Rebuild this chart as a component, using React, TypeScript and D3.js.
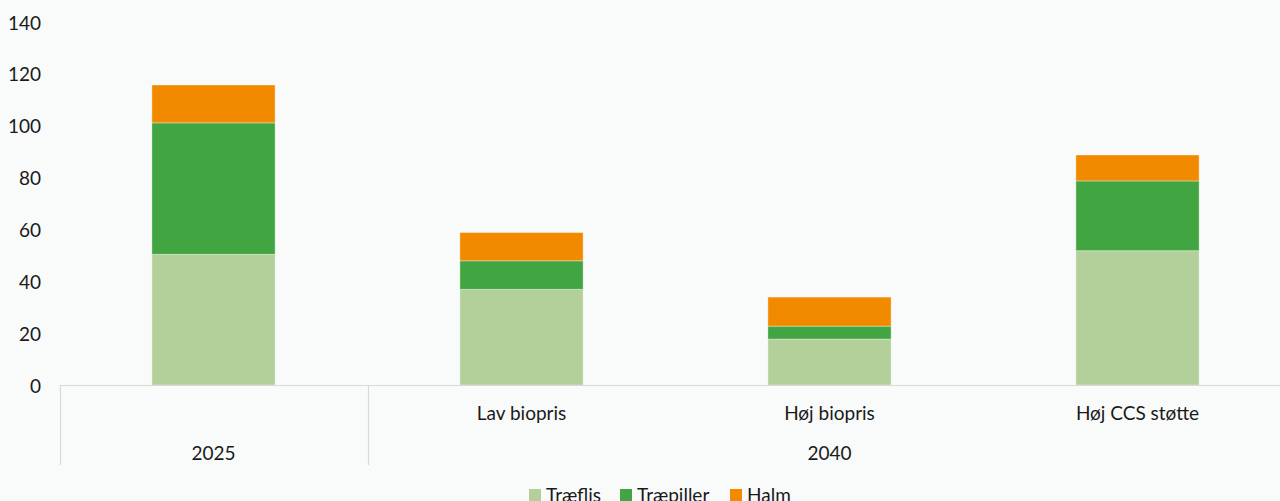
import React from "react";
import * as d3 from "d3";

const categories = ["", "Lav biopris", "Høj biopris", "Høj CCS støtte"];
const groups = ["2025", "2040", "2040", "2040"];
const traeflis = [50.4, 36.9, 17.7, 51.8];
const traepiller = [50.7, 11.0, 5.0, 26.9];
const halm = [14.6, 10.9, 11.2, 10.0];
const seriesNames = ["Træflis", "Træpiller", "Halm"];
const seriesColors = ["#b3d09b", "#41a541", "#f28a00"];
const yTicks = [0, 20, 40, 60, 80, 100, 120, 140];

const W = 1280;
const H = 501;
const FONT = "Lato, 'Open Sans', sans-serif";

export default function App() {
  const x = d3
    .scaleBand<number>()
    .domain(d3.range(categories.length))
    .range([59.5, 1291.5])
    .paddingInner(0.6)
    .paddingOuter(0.3);
  const step = x.step();
  const x0 = 59.5;
  const y = d3.scaleLinear().domain([0, 140]).range([385, 22]);

  const rows = categories.map((c, i) => ({
    idx: i,
    Træflis: traeflis[i],
    Træpiller: traepiller[i],
    Halm: halm[i],
  }));
  const stack = d3.stack<any>().keys(seriesNames);
  const stacked = stack(rows);

  // group spans
  const groupSpans: { name: string; start: number; end: number }[] = [];
  groups.forEach((g, i) => {
    const last = groupSpans[groupSpans.length - 1];
    if (last && last.name === g) last.end = i;
    else groupSpans.push({ name: g, start: i, end: i });
  });

  const legendX = [529, 620, 730];

  return (
    <svg
      width={W}
      height={H}
      style={{ position: "absolute", left: 0, top: 0, background: "#f9fafa" }}
      fontFamily={FONT}
    >
      <rect x={0} y={0} width={W} height={H} fill="#f9fafa" />
      {/* y tick labels */}
      {yTicks.map((t) => (
        <text
          key={t}
          x={41}
          y={y(t)}
          textAnchor="end"
          dominantBaseline="central"
          fontSize={19}
          fill="#1a1a1a"
        >
          {t}
        </text>
      ))}
      {/* bars */}
      {stacked.map((s, si) =>
        s.map((d, i) => (
          <rect
            key={si + "-" + i}
            x={x(i)!}
            y={y(d[1])}
            width={x.bandwidth()}
            height={y(d[0]) - y(d[1])}
            fill={seriesColors[si]}
            stroke="#ffffff"
            strokeOpacity={0.35}
            strokeWidth={1}
          />
        ))
      )}
      {/* axis line */}
      <line x1={x0} x2={W} y1={385.5} y2={385.5} stroke="#d9d9d9" strokeWidth={1.2} />
      {/* group separators */}
      {groupSpans.map((g, gi) => (
        <line
          key={"sep" + gi}
          x1={Math.round(x0 + g.start * step) + 0.5}
          x2={Math.round(x0 + g.start * step) + 0.5}
          y1={385}
          y2={465}
          stroke="#d9d9d9"
          strokeWidth={1.2}
        />
      ))}
      {/* category labels */}
      {categories.map((c, i) => (
        <text
          key={"c" + i}
          x={x(i)! + x.bandwidth() / 2}
          y={412}
          textAnchor="middle"
          dominantBaseline="central"
          fontSize={19}
          fill="#1a1a1a"
        >
          {c}
        </text>
      ))}
      {/* group labels */}
      {groupSpans.map((g, gi) => (
        <text
          key={"g" + gi}
          x={x0 + ((g.start + g.end + 1) / 2) * step}
          y={452}
          textAnchor="middle"
          dominantBaseline="central"
          fontSize={19}
          fill="#1a1a1a"
        >
          {g.name}
        </text>
      ))}
      {/* legend */}
      {seriesNames.map((n, i) => (
        <g key={"l" + i}>
          <rect x={legendX[i]} y={489} width={12} height={12} fill={seriesColors[i]} />
          <text x={legendX[i] + 17} y={502} fontSize={19} fill="#1a1a1a">
            {n}
          </text>
        </g>
      ))}
    </svg>
  );
}
